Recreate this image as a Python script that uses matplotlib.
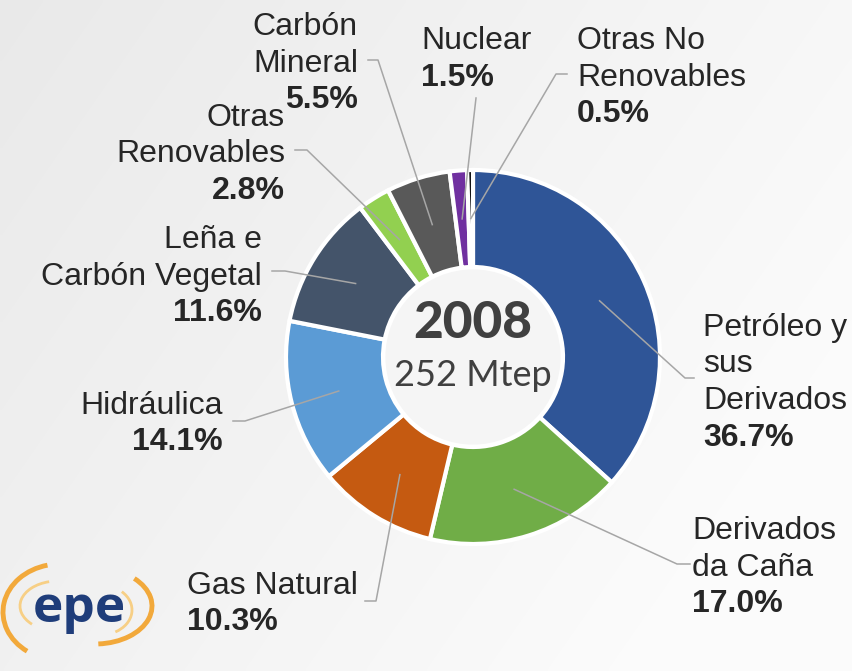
import matplotlib
matplotlib.use("Agg")
import matplotlib.pyplot as plt
import numpy as np
from matplotlib.patches import Arc, Circle

# ---------------- data ----------------
categories = ["Petróleo y\nsus\nDerivados", "Derivados\nda Caña", "Gas Natural",
              "Hidráulica", "Leña e\nCarbón Vegetal", "Otras\nRenovables",
              "Carbón\nMineral", "Nuclear", "Otras No\nRenovables"]
values = [36.7, 17.0, 10.3, 14.1, 11.6, 2.8, 5.5, 1.5, 0.5]
colors = ["#2F5597", "#70AD47", "#C55A11", "#5B9BD5", "#44546A",
          "#92D050", "#595959", "#7030A0", "#000000"]
year_label = "2008"
total_label = "252 Mtep"

# ---------------- layout (pixel units, y measured from top) ----------------
W, H = 853, 671
CX, CY, R, RING = 473, 357, 187, 97
STEP = 36.5
TXT_DY = 3
# x, ha, first-line y, elbow point, end point
label_layout = [
    (703, "left", 325, (685, 378), (694, 378)),
    (692, "left", 528, (677, 564), (690, 564)),
    (187, "left", 583, (376, 601), (365, 601)),
    (223, "right", 403, (245, 421), (233, 421)),
    (262, "right", 237, (285, 271), (272, 271)),
    (285, "right", 115, (307, 150), (295, 150)),
    (358, "right", 24, (378, 60), (368, 60)),
    (421, "left", 38, (476, 98), None),
    (577, "left", 38, (556, 74), (567, 74)),
]

def Y(p):
    return H - p

fig = plt.figure(figsize=(W / 100, H / 100), dpi=100)
ax = fig.add_axes([0, 0, 1, 1])

# background gradient
xs = np.linspace(0, 1, 200)
ys = np.linspace(0, 1, 160)
XX, YY = np.meshgrid(xs, ys)
val = 0.915 + 0.055 * XX + 0.03 * YY
val = np.clip(val, 0, 0.985)
ax.imshow(np.dstack([val, val, val]), extent=[0, W, 0, H], origin="upper",
          aspect="auto", zorder=0, interpolation="bilinear")

# donut
wedges, _ = ax.pie(values, colors=colors, startangle=90, counterclock=False,
                   center=(CX, Y(CY)), radius=R,
                   wedgeprops=dict(width=RING, edgecolor="white", linewidth=3))
for w in wedges:
    w.set_zorder(2)
ax.add_patch(Circle((CX, Y(CY)), R - RING - 1, facecolor="#F5F5F5",
                    edgecolor="white", linewidth=2, zorder=2))

ax.text(CX, Y(323), year_label, ha="center", va="center", fontsize=37,
        fontweight="black", family="Lato", color="#404040", zorder=3)
ax.text(CX, Y(375), total_label, ha="center", va="center", fontsize=26,
        family="Lato", color="#404040", zorder=3)

# labels + leader lines
txtc = "#262626"
rmid = R - RING / 2
for w, name, v, (x, ha, y0, elbow, end) in zip(wedges, categories, values, label_layout):
    lines = name.split("\n")
    y0 = y0 + TXT_DY
    for i, ln in enumerate(lines):
        ax.text(x, Y(y0 + i * STEP), ln, ha=ha, va="center", fontsize=23,
                family="Liberation Sans", color=txtc, zorder=4)
    ax.text(x, Y(y0 + len(lines) * STEP), f"{v:.1f}%", ha=ha, va="center",
            fontsize=23, fontweight="bold", family="Liberation Sans",
            color=txtc, zorder=4)
    ang = np.deg2rad((w.theta1 + w.theta2) / 2)
    axp = (CX + rmid * np.cos(ang), Y(CY) + rmid * np.sin(ang))
    px = [axp[0], elbow[0]]
    py = [axp[1], Y(elbow[1])]
    if end is not None:
        px.append(end[0])
        py.append(Y(end[1]))
    ax.plot(px, py, color="#A6A6A6", lw=1.1, zorder=3.5)

# logo
ax.text(79, Y(622), "epe", ha="center", va="baseline", fontsize=37,
        fontweight="bold", family="Open Sans", color="#1F3D7A", zorder=5)
ax.add_patch(Arc((60, Y(612)), 114, 96, theta1=105, theta2=230,
                 color="#F2A93B", lw=3.5, zorder=5))
ax.add_patch(Arc((58, Y(606)), 76, 50, theta1=110, theta2=215,
                 color="#F7CF85", lw=2, zorder=5))
ax.add_patch(Arc((95, Y(606)), 114, 76, theta1=-85, theta2=35,
                 color="#F2A93B", lw=3.5, zorder=5))
ax.add_patch(Arc((100, Y(610)), 64, 50, theta1=-55, theta2=40,
                 color="#F7CF85", lw=2, zorder=5))

ax.set_xlim(0, W)
ax.set_ylim(0, H)
ax.set_aspect("auto")
ax.axis("off")

fig.savefig("out.png", dpi=100)
